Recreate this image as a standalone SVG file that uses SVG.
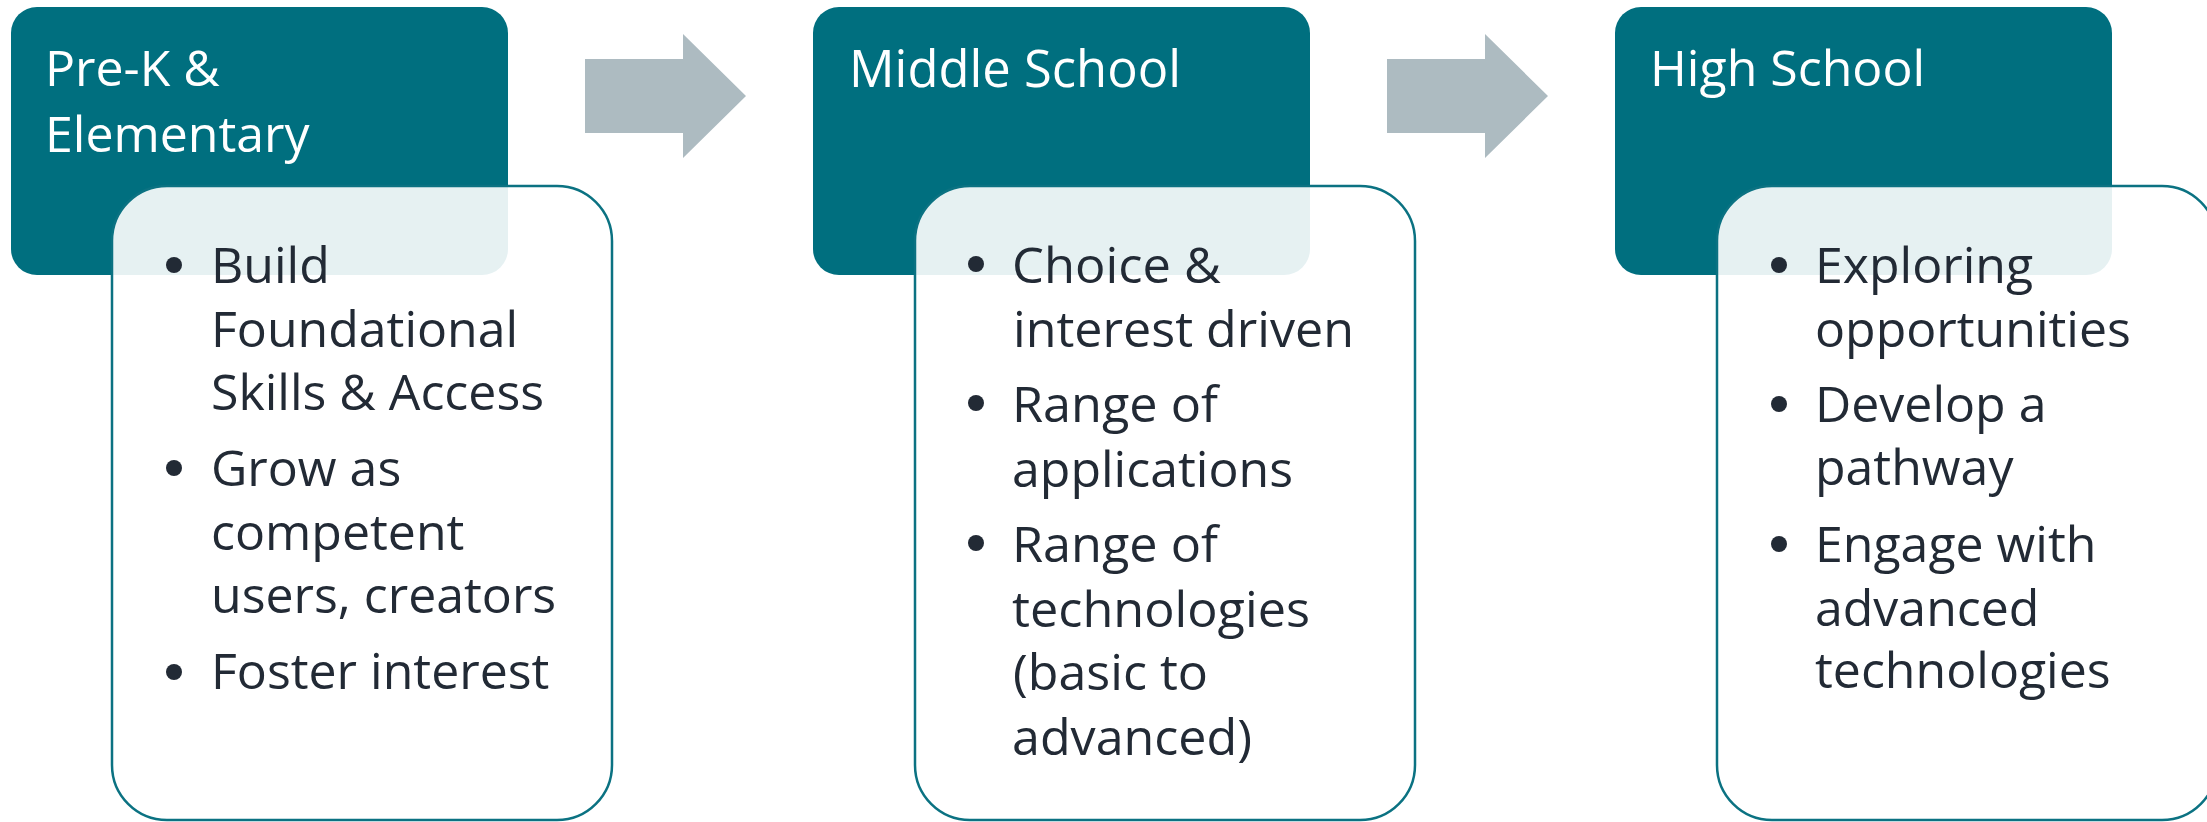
<svg xmlns="http://www.w3.org/2000/svg" width="2207" height="822" viewBox="0 0 2207 822">
<style>
.hdr{fill:#006F7F}
.body{fill:#FFFFFF;fill-opacity:0.9;stroke:#0B7282;stroke-width:2.5}
.ht{font-family:"Open Sans","Liberation Sans",sans-serif;font-size:50px;fill:#FFFFFF}
.bt{font-family:"Open Sans","Liberation Sans",sans-serif;font-size:50px;fill:#222A35}
.ht2{font-family:"Open Sans","Liberation Sans",sans-serif;font-size:51px;fill:#FFFFFF}
.bt2{font-family:"Open Sans","Liberation Sans",sans-serif;font-size:50px;fill:#222A35}
.dot{fill:#222A35}
.arrow{fill:#ADBBC1}
</style>
<rect width="2207" height="822" fill="#FFFFFF"/>
<g id="connectors">
<polygon class="arrow" points="585,59 683,59 683,34 746,96 683,158 683,133 585,133"/>
<polygon class="arrow" points="1387,59 1485,59 1485,34 1548,96 1485,158 1485,133 1387,133"/>
</g>
<g id="node-prek">
<rect class="hdr" x="11" y="7" width="497" height="268" rx="26" ry="26"/>
<text class="ht" x="45" y="86">Pre-K &amp;</text>
<text class="ht" x="45" y="152">Elementary</text>
<rect class="body" x="112" y="186" width="500" height="634" rx="55" ry="55"/>
<circle class="dot" cx="174" cy="265" r="8"/>
<circle class="dot" cx="174" cy="468" r="8"/>
<circle class="dot" cx="174" cy="672" r="8"/>
<text class="bt" x="211" y="283">Build</text>
<text class="bt" x="211" y="347">Foundational</text>
<text class="bt" x="211" y="410">Skills &amp; Access</text>
<text class="bt" x="211" y="486">Grow as</text>
<text class="bt" x="211" y="550">competent</text>
<text class="bt" x="211" y="613">users, creators</text>
<text class="bt" x="211" y="689">Foster interest</text>
</g>
<g id="node-middle">
<rect class="hdr" x="813" y="7" width="497" height="268" rx="26" ry="26"/>
<text class="ht2" x="849" y="87" textLength="332" lengthAdjust="spacingAndGlyphs">Middle School</text>
<rect class="body" x="915" y="186" width="500" height="634" rx="55" ry="55"/>
<circle class="dot" cx="976" cy="264" r="8"/>
<circle class="dot" cx="976" cy="403" r="8"/>
<circle class="dot" cx="976" cy="543" r="8"/>
<text class="bt2" x="1012" y="283" textLength="209" lengthAdjust="spacingAndGlyphs">Choice &amp;</text>
<text class="bt2" x="1013" y="347" textLength="341" lengthAdjust="spacingAndGlyphs">interest driven</text>
<text class="bt2" x="1012" y="422" textLength="206" lengthAdjust="spacingAndGlyphs">Range of</text>
<text class="bt2" x="1012" y="487" textLength="281" lengthAdjust="spacingAndGlyphs">applications</text>
<text class="bt2" x="1012" y="562" textLength="206" lengthAdjust="spacingAndGlyphs">Range of</text>
<text class="bt2" x="1012" y="627" textLength="298" lengthAdjust="spacingAndGlyphs">technologies</text>
<text class="bt2" x="1013" y="690" textLength="195" lengthAdjust="spacingAndGlyphs">(basic to</text>
<text class="bt2" x="1012" y="755" textLength="240" lengthAdjust="spacingAndGlyphs">advanced)</text>
</g>
<g id="node-high">
<rect class="hdr" x="1615" y="7" width="497" height="268" rx="26" ry="26"/>
<text class="ht" x="1650" y="86">High School</text>
<rect class="body" x="1717" y="186" width="500" height="634" rx="55" ry="55"/>
<circle class="dot" cx="1779" cy="265" r="8"/>
<circle class="dot" cx="1779" cy="404" r="8"/>
<circle class="dot" cx="1779" cy="544" r="8"/>
<text class="bt" x="1815" y="283">Exploring</text>
<text class="bt" x="1815" y="347">opportunities</text>
<text class="bt" x="1815" y="422">Develop a</text>
<text class="bt" x="1815" y="485">pathway</text>
<text class="bt" x="1815" y="562">Engage with</text>
<text class="bt" x="1815" y="626">advanced</text>
<text class="bt" x="1815" y="688">technologies</text>
</g>
</svg>
